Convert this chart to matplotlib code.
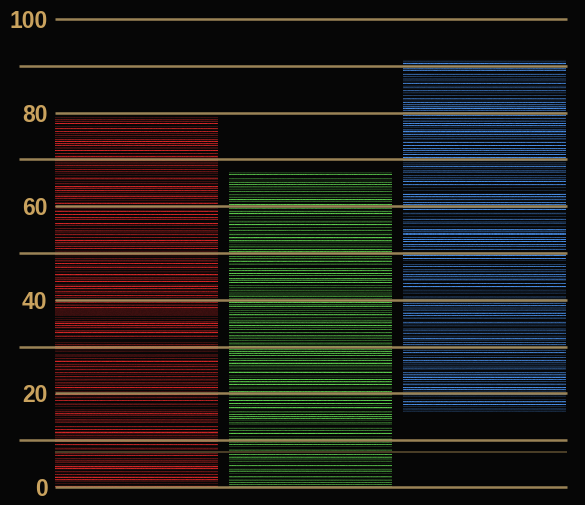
import numpy as np
import matplotlib
matplotlib.use("Agg")
import matplotlib.pyplot as plt

# data
categories = ["A", "B", "C"]
bar_bottoms = [0, 0, 16]
bar_tops = [79, 67.5, 91.5]
bar_colors = [(0.84, 0.15, 0.15), (0.36, 0.80, 0.30), (0.28, 0.55, 0.90)]
y_ticks = [0, 20, 40, 60, 80, 100]
grid_values = [0, 10, 20, 30, 40, 50, 60, 70, 80, 90, 100]
dim_line_value = 7.5

bg = "#060606"
gold = "#a88f5e"
label_gold = "#c9a25e"

fig = plt.figure(figsize=(5.85, 5.05), dpi=100, facecolor=bg)
# axes spans from x=19px to 567px, y from 0 to 100 in data
ax = fig.add_axes([19 / 585, 18 / 505, 548 / 585, 468 / 505])
ax.set_facecolor(bg)
for s in ax.spines.values():
    s.set_visible(False)

px = 174.0  # pixels per category step
x0_px = 136.5 - 19  # first bar center, measured from axes left
ax.set_xlim(-x0_px / px, (548 - x0_px) / px)
ax.set_ylim(0, 100)

x = np.arange(len(categories))
heights = [t - b for t, b in zip(bar_tops, bar_bottoms)]
bars = ax.bar(x, heights, bottom=bar_bottoms, width=163 / px, color="none", linewidth=0, zorder=2)

# striped texture inside each bar (only decoration): one pixel per row,
# lit rows alternate with dark gaps
rng = np.random.default_rng(5)
for bar, col in zip(bars, bar_colors):
    bx, by = bar.get_x(), bar.get_y()
    bw, bh = bar.get_width(), bar.get_height()
    nrows = int(round(bh * 4.68))
    ncols = 163
    row_lev = np.zeros(nrows)
    i = 0
    while i < nrows:
        row_lev[i] = rng.choice([0.25, 0.45, 0.65, 0.85, 1.0], p=[0.2, 0.25, 0.2, 0.2, 0.15])
        gap = rng.choice([1, 2, 3], p=[0.55, 0.35, 0.1])
        for g in range(1, gap + 1):
            if i + g < nrows:
                row_lev[i + g] = rng.choice([0.0, 0.1, 0.25], p=[0.5, 0.3, 0.2])
        i += gap + 1
    noise = rng.uniform(0.85, 1.05, size=(nrows, ncols))
    lev = np.clip(row_lev[:, None] * noise, 0, 1)
    img = np.zeros((nrows, ncols, 3))
    for c in range(3):
        img[:, :, c] = 0.03 + lev * (col[c] - 0.03)
    im = ax.imshow(img, extent=(bx, bx + bw, by, by + bh), origin="lower",
                   aspect="auto", interpolation="nearest", zorder=2)
    im.set_clip_path(bar)

# gridlines: even ones stop before the labels
even_start = (55 - 136.5) / px
for v in grid_values:
    xmin = even_start if v % 20 == 0 else ax.get_xlim()[0]
    ax.hlines(v, xmin, ax.get_xlim()[1], color=gold, linewidth=1.8, alpha=0.92,
              zorder=3, clip_on=False)
ax.hlines(dim_line_value, even_start, ax.get_xlim()[1], color="#4b3f27", linewidth=1.4, zorder=3)

ax.set_xticks([])
ax.set_yticks(y_ticks)
ax.set_yticklabels([str(t) for t in y_ticks])
ax.tick_params(axis="y", length=0, pad=-20.5, labelcolor=label_gold)
for lab in ax.get_yticklabels():
    lab.set_fontfamily("Liberation Sans")
    lab.set_fontweight("bold")
    lab.set_fontsize(16.5)
    lab.set_horizontalalignment("right")

fig.savefig("out.png", dpi=100, facecolor=bg)
